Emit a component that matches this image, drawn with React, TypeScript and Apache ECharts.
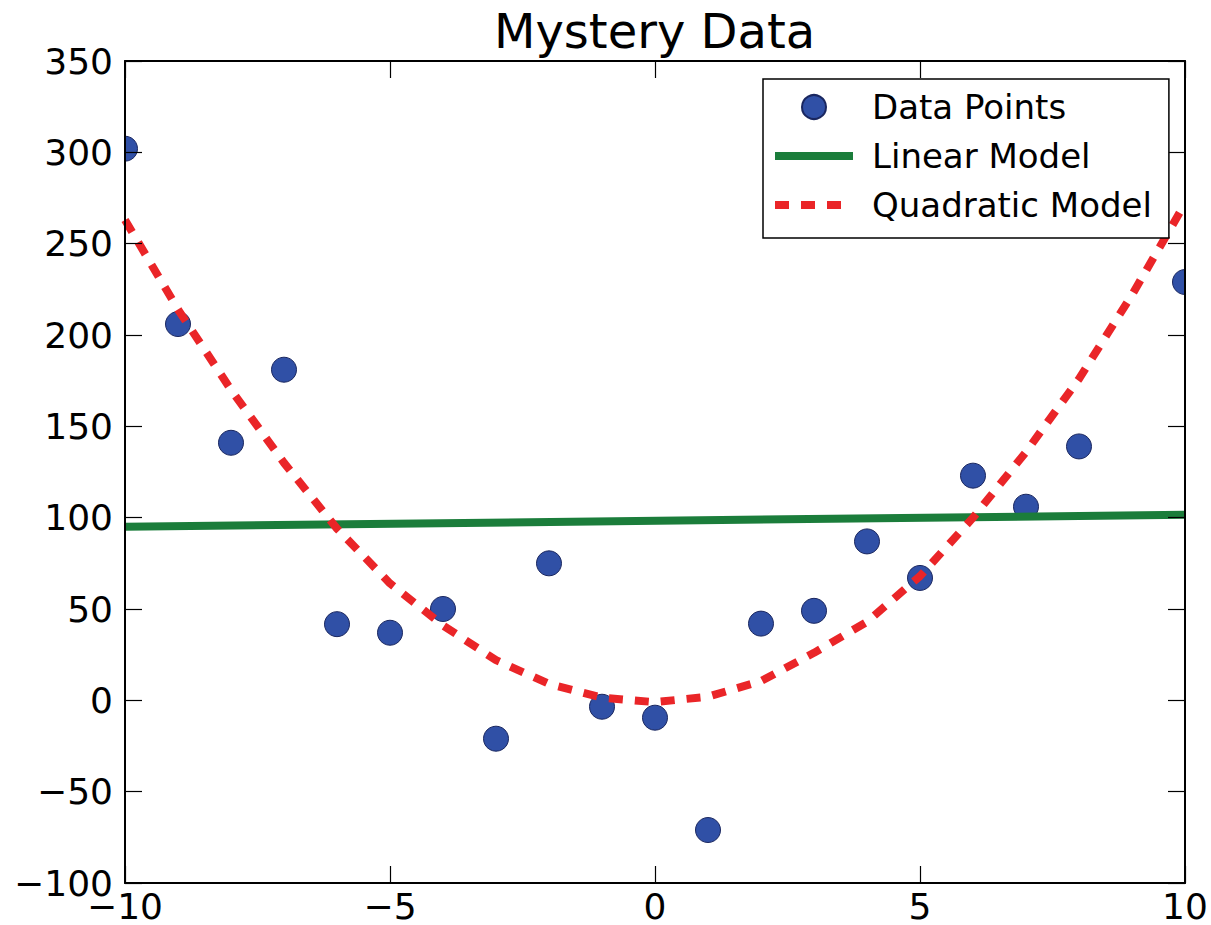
import React, { useEffect, useRef } from "react";
import * as echarts from "echarts";

// observed data (the x = 9 point sits behind the legend in the source, left out)
const pointX = [-10, -9, -8, -7, -6, -5, -4, -3, -2, -1, 0, 1, 2, 3, 4, 5, 6, 7, 8, 10];
const pointY = [302, 206, 141, 181, 41.7, 37, 50, -21, 75, -3.5, -9.5, -71, 42, 49, 87, 67, 123, 106, 139, 229];

// fitted models
const linearX = [-10, 10];
const linearY = [95, 101.6];

const quadX = [-10, -9, -8, -7, -6, -5, -4, -3, -2, -1, 0, 1, 2, 3, 4, 5, 6, 7, 8, 9, 10];
const quadY = [263, 214, 170, 130, 94, 64, 41, 22, 9, 1.5, -1, 2, 10.5, 26, 43, 68, 100, 136, 176, 222, 272];

const xRange = [-10, 10];
const xStep = 5;
const yRange = [-100, 350];
const yStep = 50;

const seriesNames = ["Data Points", "Linear Model", "Quadratic Model"];

const FONT = "DejaVu Sans";
const BLUE = "#3050a6";
const GREEN = "#1b7d3b";
const RED = "#ea2528";

const fmt = (v: number) => String(v).replace("-", "\u2212");

export default function App() {
  const ref = useRef<HTMLDivElement | null>(null);

  useEffect(() => {
    if (!ref.current) return;
    const chart = echarts.init(ref.current, undefined, { renderer: "svg" });

    const axisLine = { show: true, onZero: false, lineStyle: { color: "#000", width: 2 } };
    const axisTick = { show: true, inside: true, length: 17, lineStyle: { color: "#000", width: 1.2 } };
    const label = { color: "#000", fontSize: 36, lineHeight: 30, fontFamily: FONT, formatter: fmt };

    const xBase = { type: "value", min: xRange[0], max: xRange[1], interval: xStep, z: 5, axisLine, axisTick, splitLine: { show: false } };
    const yBase = { type: "value", min: yRange[0], max: yRange[1], interval: yStep, z: 5, axisLine, axisTick, splitLine: { show: false } };

    const option: any = {
      animation: false,
      backgroundColor: "#fff",
      title: {
        text: "Mystery Data",
        left: 494,
        top: 7,
        padding: 0,
        textStyle: { fontSize: 48, fontWeight: "normal", color: "#000", fontFamily: FONT },
      },
      grid: { left: 125, right: 26, top: 61, bottom: 42, outerBoundsMode: "none" },
      xAxis: [
        { ...xBase, position: "bottom", axisLabel: { ...label, margin: 8 } },
        { ...xBase, position: "top", axisLabel: { show: false } },
      ],
      yAxis: [
        { ...yBase, position: "left", axisLabel: { ...label, margin: 12 } },
        { ...yBase, position: "right", axisLabel: { show: false } },
      ],
      legend: {
        orient: "vertical",
        left: 763,
        top: 79,
        padding: [11, 17, 16, 8],
        itemGap: 15,
        itemWidth: 78,
        itemHeight: 24,
        backgroundColor: "#fff",
        borderColor: "#000",
        borderWidth: 1.5,
        z: 10,
        lineStyle: { width: "inherit" },
        textStyle: { fontSize: 34, lineHeight: 34, color: "#000", fontFamily: FONT, padding: [0, 0, 0, 14] },
        data: [
          { name: seriesNames[0], icon: "circle" },
          { name: seriesNames[1], itemStyle: { opacity: 0 } },
          { name: seriesNames[2], itemStyle: { opacity: 0 } },
        ],
      },
      series: [
        {
          name: seriesNames[0],
          type: "custom",
          clip: true,
          z: 2,
          itemStyle: { color: BLUE, borderColor: "#1a2760", borderWidth: 1 },
          data: pointX.map((x, i) => [x, pointY[i]]),
          renderItem: (params: any, api: any) => {
            const p = api.coord([api.value(0), api.value(1)]);
            return {
              type: "circle",
              shape: { cx: p[0], cy: p[1], r: 12.5 },
              style: api.style(),
            };
          },
        },
        {
          name: seriesNames[1],
          type: "line",
          symbol: "none",
          z: 3,
          lineStyle: { color: GREEN, width: 8 },
          itemStyle: { color: GREEN },
          data: linearX.map((x, i) => [x, linearY[i]]),
        },
        {
          name: seriesNames[2],
          type: "line",
          symbol: "none",
          z: 4,
          lineStyle: { color: RED, width: 8, type: [14, 12] },
          itemStyle: { color: RED },
          data: quadX.map((x, i) => [x, quadY[i]]),
        },
      ],
    };

    chart.setOption(option);
    return () => chart.dispose();
  }, []);

  return (
    <div
      ref={ref}
      style={{ position: "absolute", left: 0, top: 0, width: 1211, height: 925 }}
    />
  );
}
